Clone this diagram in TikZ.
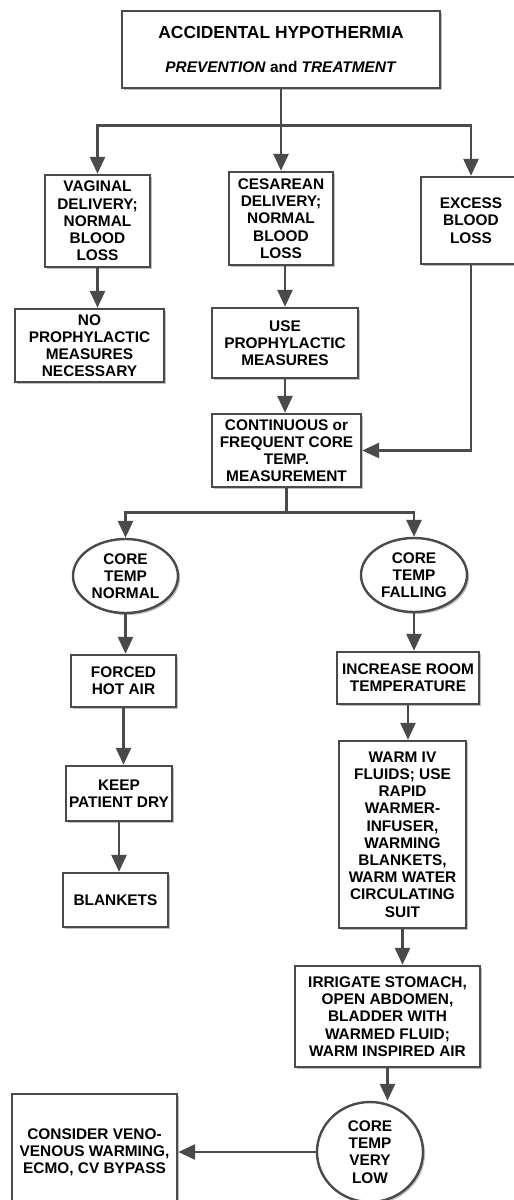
\documentclass[tikz,border=0pt]{standalone}
\usepackage{fontspec}
\setmainfont{Liberation Sans}
\usetikzlibrary{arrows.meta}
\usetikzlibrary{shapes.geometric}
\usetikzlibrary{shadows}

\definecolor{linegray}{HTML}{4A4A4A}

\tikzset{
  card/.style={draw=linegray, line width=2.4pt, fill=white, align=center, inner sep=0pt,
    font=\fontsize{15.4}{17.2}\selectfont\bfseries,
    drop shadow={shadow xshift=2pt, shadow yshift=-2pt, fill=black, opacity=0.25}},
  oval/.style={card, ellipse},
  link/.style={draw=linegray, line width=2.8pt},
  flow/.style={link, -{Triangle[length=17pt,width=15pt]}},
}

\begin{document}
\begin{tikzpicture}[x=1pt, y=-1pt]

    % Page
    \path[use as bounding box, clip] (0,0) rectangle (514,1200);

    % Title
    \node[card, minimum width=318pt, minimum height=77pt] (title) at (281,49.5)
        {\fontsize{17.4}{20}\selectfont ACCIDENTAL HYPOTHERMIA\\[17pt]
         \textit{PREVENTION} and \textit{TREATMENT}};

    % Delivery type
    \node[card, minimum width=105pt, minimum height=92pt] (vaginal) at (97.5,221)
        {VAGINAL\\DELIVERY;\\NORMAL\\BLOOD\\LOSS};
    \node[card, minimum width=104pt, minimum height=93pt] (cesarean) at (281,218.5)
        {CESAREAN\\DELIVERY;\\NORMAL\\BLOOD\\LOSS};
    \node[card, minimum width=100pt, minimum height=87pt] (excess) at (471,220.5)
        {EXCESS\\BLOOD\\LOSS};

    % Prophylaxis
    \node[card, minimum width=149pt, minimum height=73pt] (noproph) at (89.5,345.5)
        {NO\\PROPHYLACTIC\\MEASURES\\NECESSARY};
    \node[card, minimum width=146pt, minimum height=70pt] (useproph) at (285,343)
        {USE\\PROPHYLACTIC\\MEASURES};
    \node[card, minimum width=149pt, minimum height=73pt] (measure) at (286.5,450.5)
        {CONTINUOUS or\\FREQUENT CORE\\TEMP.\\MEASUREMENT};

    % Core temperature
    \node[oval, minimum width=105pt, minimum height=74pt] (normal) at (125.5,576)
        {CORE\\TEMP\\NORMAL};
    \node[oval, minimum width=106pt, minimum height=74pt] (falling) at (414,575)
        {CORE\\TEMP\\FALLING};

    % Left column
    \node[card, minimum width=105pt, minimum height=52pt] (hotair) at (123.5,681)
        {FORCED\\HOT AIR};
    \node[card, minimum width=106pt, minimum height=55pt] (dry) at (119,793.5)
        {KEEP\\PATIENT DRY};
    \node[card, minimum width=105pt, minimum height=54pt] (blankets) at (115.5,900)
        {BLANKETS};

    % Right column
    \node[card, minimum width=142pt, minimum height=52pt] (room) at (408,678)
        {INCREASE ROOM\\TEMPERATURE};
    \node[card, minimum width=127pt, minimum height=187pt] (fluids) at (402.5,834.5)
        {WARM IV\\FLUIDS; USE\\RAPID\\WARMER-\\INFUSER,\\WARMING\\BLANKETS,\\WARM WATER\\CIRCULATING\\SUIT};
    \node[card, minimum width=185pt, minimum height=101pt] (irrigate) at (387.5,1016.5)
        {IRRIGATE STOMACH,\\OPEN ABDOMEN,\\BLADDER WITH\\WARMED FLUID;\\WARM INSPIRED AIR};
    \node[oval, minimum width=106pt, minimum height=100pt] (verylow) at (370,1152)
        {CORE\\TEMP\\VERY\\LOW};
    \node[card, minimum width=165pt, minimum height=116pt] (bypass) at (94.5,1152)
        {CONSIDER VENO-\\VENOUS WARMING,\\ECMO, CV BYPASS};

    % Connectors from the title
    \draw[link] (title.south) -- ++(0,36) coordinate (split1);
    \draw[flow] (split1) -| (vaginal.north);
    \draw[flow] (split1) -- (cesarean.north);
    \draw[flow] (split1) -| (excess.north);

    % Prophylaxis and measurement
    \draw[flow] (vaginal.south) -- (vaginal.south |- noproph.north);
    \draw[flow] (useproph.north |- cesarean.south) -- (useproph.north);
    \draw[flow] (useproph.south) -- (useproph.south |- measure.north);
    \draw[flow] (excess.south) |- (measure.east);

    % Split on core temperature
    \draw[link] (measure.south) -- ++(0,24) coordinate (split2);
    \draw[flow] (split2) -| (normal.north);
    \draw[flow] (split2) -| (falling.north);

    % Left chain
    \draw[flow] (normal.south) -- (normal.south |- hotair.north);
    \draw[flow] (hotair.south) -- (hotair.south |- dry.north);
    \draw[flow] (dry.south) -- (dry.south |- blankets.north);

    % Right chain
    \draw[flow] (falling.south) -- (falling.south |- room.north);
    \draw[flow] (room.south) -- (room.south |- fluids.north);
    \draw[flow] (fluids.south) -- (fluids.south |- irrigate.north);
    \draw[flow] (irrigate.south) -- (irrigate.south |- verylow.north);
    \draw[flow] (verylow.west) -- (bypass.east);

\end{tikzpicture}
\end{document}
